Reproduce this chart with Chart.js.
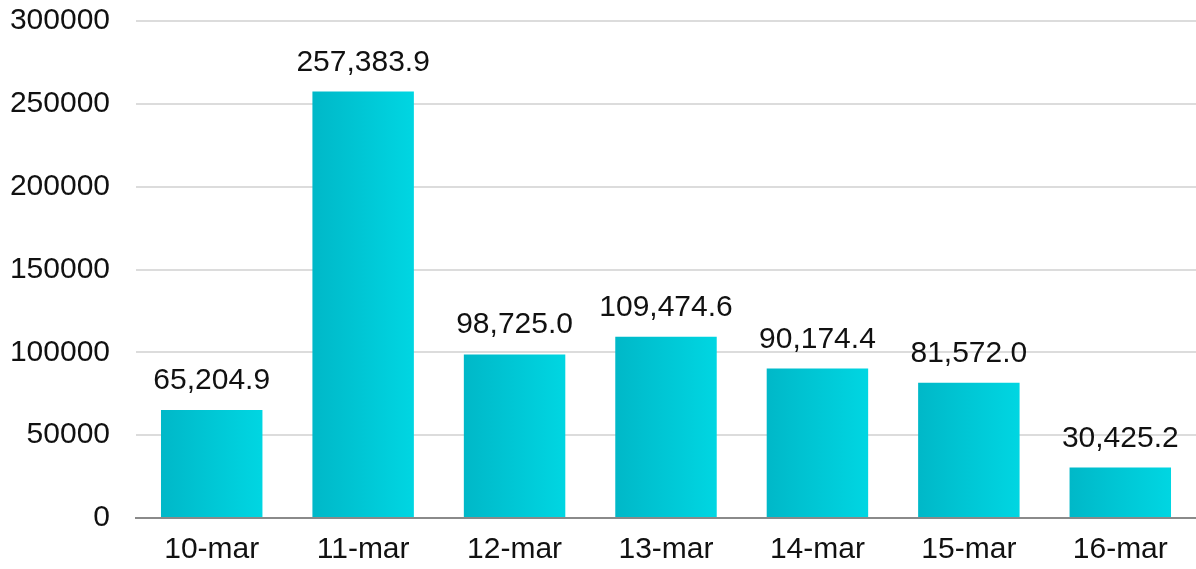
<!DOCTYPE html>
<html>
<head>
<meta charset="utf-8">
<script src="https://cdn.jsdelivr.net/npm/chart.js@4.4.0/dist/chart.umd.min.js"></script>
<style>
  html, body { margin: 0; padding: 0; background: #fff; }
  #wrap { width: 1196px; height: 569px; }
</style>
</head>
<body>
<div id="wrap"><canvas id="salesChart"></canvas></div>
<script>
const categories = ['10-mar', '11-mar', '12-mar', '13-mar', '14-mar', '15-mar', '16-mar'];
const values = [65204.9, 257383.9, 98725.0, 109474.6, 90174.4, 81572.0, 30425.2];
const yTicks = [0, 50000, 100000, 150000, 200000, 250000, 300000];

const fontFamily = '"Liberation Sans", Arial, sans-serif';
const barShare = 0.67;

function barGradient(context) {
    const chart = context.chart;
    const xScale = chart.scales.x;
    if (!xScale || context.dataIndex === undefined) return '#00c8d8';
    const center = xScale.getPixelForValue(context.dataIndex);
    const w = (xScale.width / categories.length) * barShare;
    if (!isFinite(center) || !isFinite(w) || w <= 0) return '#00c8d8';
    const left = center - w / 2;
    const g = chart.ctx.createLinearGradient(left, 0, left + w, 0);
    g.addColorStop(0, '#00b8c8');
    g.addColorStop(1, '#00d6e2');
    return g;
}

const valueLabels = {
    id: 'valueLabels',
    afterDatasetsDraw(chart) {
        const ctx = chart.ctx;
        ctx.save();
        ctx.font = '30px ' + fontFamily;
        ctx.fillStyle = '#111';
        ctx.textAlign = 'center';
        ctx.textBaseline = 'alphabetic';
        chart.getDatasetMeta(0).data.forEach((bar, i) => {
            const txt = values[i].toLocaleString('en-US', { minimumFractionDigits: 1, maximumFractionDigits: 1 });
            ctx.fillText(txt, bar.x, bar.y - 21);
        });
        ctx.restore();
    }
};

new Chart(document.getElementById('salesChart'), {
    type: 'bar',
    data: {
        labels: categories,
        datasets: [{
            data: values,
            backgroundColor: barGradient,
            categoryPercentage: barShare,
            barPercentage: 1.0
        }]
    },
    options: {
        responsive: true,
        maintainAspectRatio: false,
        animation: false,
        layout: { autoPadding: false, padding: { top: 21, right: 0, left: 0, bottom: 0 } },
        plugins: {
            legend: { display: false },
            tooltip: { enabled: false }
        },
        scales: {
            y: {
                min: 0,
                max: 300000,
                afterBuildTicks: (axis) => { axis.ticks = yTicks.map(v => ({ value: v })); },
                afterFit: (axis) => {
                    axis.width = 136;
                    axis.paddingTop = 0;
                    axis.paddingBottom = 0;
                },
                ticks: {
                    color: '#111',
                    font: { family: fontFamily, size: 30 },
                    padding: 26,
                    callback: (v) => String(v)
                },
                grid: { color: '#dcdcdc', lineWidth: 2, drawTicks: false },
                border: { display: false }
            },
            x: {
                afterFit: (axis) => { axis.height = 51; },
                ticks: {
                    color: '#111',
                    font: { family: fontFamily, size: 30 },
                    padding: 14
                },
                grid: { display: false, drawTicks: false },
                border: { display: true, color: '#8a8a8a', width: 2 }
            }
        }
    },
    plugins: [valueLabels]
});
</script>
</body>
</html>
